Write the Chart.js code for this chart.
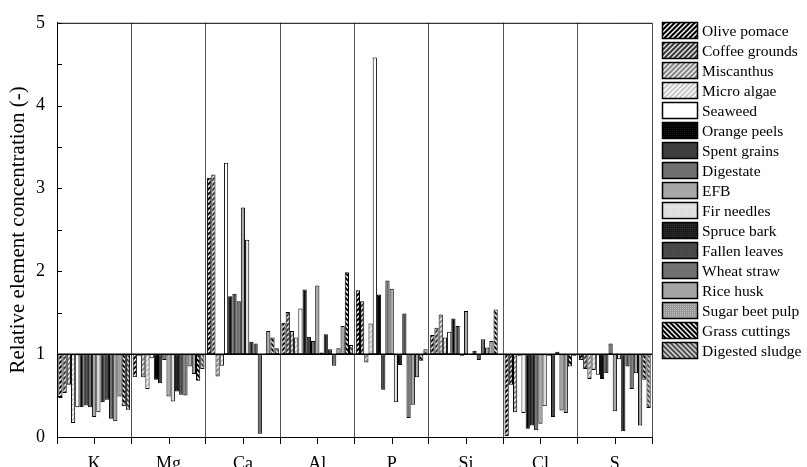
<!DOCTYPE html>
<html><head><meta charset="utf-8">
<script src="https://cdn.jsdelivr.net/npm/chart.js@4/dist/chart.umd.min.js"></script>
<style>html,body{margin:0;padding:0;background:#fff}canvas{display:block}</style>
</head><body>
<div style="width:807px;height:467px"><canvas id="c" width="807" height="467"></canvas></div>
<script>
// Categories (elements)
const categories = ['K','Mg','Ca','Al','P','Si','Cl','S'];
const yTicks = [0,1,2,3,4,5];
const seriesNames = ['Olive pomace','Coffee grounds','Miscanthus','Micro algae','Seaweed','Orange peels','Spent grains','Digestate','EFB','Fir needles','Spruce bark','Fallen leaves','Wheat straw','Rice husk','Sugar beet pulp','Grass cuttings','Digested sludge'];
// values per series, in category order K, Mg, Ca, Al, P, Si, Cl, S
const olivePomace    = [0.47,0.72,3.13,1.38,1.77,1.23,0.01,0.93];
const coffeeGrounds  = [0.53,0.98,3.17,1.51,1.64,1.32,0.63,0.82];
const miscanthus     = [0.63,0.72,0.73,1.28,0.90,1.48,0.30,0.70];
const microAlgae     = [0.17,0.58,0.86,1.20,1.37,1.20,0.98,0.81];
const seaweed        = [0.36,0.95,3.31,1.55,4.58,1.27,0.29,0.75];
const orangePeels    = [0.36,0.69,1.70,1.78,1.72,1.43,0.10,0.70];
const spentGrains    = [0.38,0.65,1.73,1.21,0.57,1.34,0.14,0.77];
const digestate      = [0.36,0.93,1.64,1.16,1.89,0.98,0.08,1.13];
const efb            = [0.24,0.49,2.77,1.83,1.79,1.52,0.16,0.31];
const firNeedles     = [0.30,0.43,2.38,1.02,0.42,0.99,0.37,0.94];
const spruceBark     = [0.42,0.55,1.15,1.24,0.87,1.04,0.98,0.07];
const fallenLeaves   = [0.45,0.51,1.13,1.06,1.49,0.93,0.24,0.85];
const wheatStraw     = [0.22,0.50,0.04,0.86,0.23,1.18,1.03,0.58];
const riceHusk       = [0.19,0.85,1.00,1.07,0.39,1.08,0.32,0.77];
const sugarBeetPulp  = [0.49,0.76,1.28,1.34,0.72,1.16,0.29,0.14];
const grassCuttings  = [0.37,0.68,1.20,1.99,0.92,1.54,0.85,0.69];
const digestedSludge = [0.33,0.82,1.07,1.11,1.06,1.00,0.98,0.35];
const seriesValues = [olivePomace,coffeeGrounds,miscanthus,microAlgae,seaweed,orangePeels,spentGrains,digestate,efb,firNeedles,spruceBark,fallenLeaves,wheatStraw,riceHusk,sugarBeetPulp,grassCuttings,digestedSludge];
const BASE = 1;

function hatch(bg, fg, dir){
  const s = 5, c = document.createElement('canvas'); c.width = s; c.height = s;
  const x = c.getContext('2d'); x.fillStyle = bg; x.fillRect(0,0,s,s);
  x.strokeStyle = fg; x.lineWidth = 1.4;
  for (let k=-1;k<=1;k++){
    x.beginPath();
    if (dir === '/') { x.moveTo(-1+k*s, s+1); x.lineTo(s+1+k*s, -1); }
    else { x.moveTo(-1+k*s, -1); x.lineTo(s+1+k*s, s+1); }
    x.stroke();
  }
  return x.createPattern(c,'repeat');
}
function dots(bg, fg){
  const c = document.createElement('canvas'); c.width = 2; c.height = 2;
  const x = c.getContext('2d'); x.fillStyle = bg; x.fillRect(0,0,2,2);
  x.fillStyle = fg; x.fillRect(0,0,1,1);
  return x.createPattern(c,'repeat');
}
const fills = [
  hatch('#000','#fff','/'),
  hatch('#3a3a3a','#e8e8e8','/'),
  hatch('#858585','#f0f0f0','/'),
  hatch('#c8c8c8','#ffffff','/'),
  '#ffffff',
  dots('#000','#1a1a1a'),
  dots('#3c3c3c','#484848'),
  dots('#6c6c6c','#787878'),
  dots('#a4a4a4','#b0b0b0'),
  dots('#e4e4e4','#d4d4d4'),
  dots('#1c1c1c','#303030'),
  dots('#454545','#555555'),
  dots('#6e6e6e','#7c7c7c'),
  dots('#a2a2a2','#aaaaaa'),
  dots('#9a9a9a','#bcbcbc'),
  hatch('#000','#fff','\\'),
  hatch('#505050','#e0e0e0','\\')
];

const datasets = seriesNames.map((name,i)=>({
  label: name,
  data: seriesValues[i].map(v=>[BASE, v]),
  backgroundColor: fills[i],
  borderColor: '#000',
  borderWidth: 1,
  borderSkipped: false,
  categoryPercentage: 0.965,
  barPercentage: 1.0
}));

const serif = "'Liberation Serif', 'DejaVu Serif', serif";

const decor = {
  id: 'decor',
  afterDatasetsDraw(chart){
    const {ctx, chartArea: a, scales: {x, y}} = chart;
    ctx.save();
    const yb = y.getPixelForValue(BASE);
    ctx.strokeStyle = '#000'; ctx.lineWidth = 1.5;
    ctx.beginPath(); ctx.moveTo(a.left, yb); ctx.lineTo(a.right, yb); ctx.stroke();
    ctx.lineWidth = 1;
    ctx.beginPath(); ctx.moveTo(a.left, a.top+0.5); ctx.lineTo(a.right, a.top+0.5); ctx.stroke();
    for (let v=0; v<=5.001; v+=0.5){
      const py = Math.round(y.getPixelForValue(v))+0.5;
      ctx.beginPath(); ctx.moveTo(a.left, py); ctx.lineTo(a.left+5, py); ctx.stroke();
    }
    categories.forEach((c,i)=>{
      const px = Math.round(x.getPixelForValue(i))+0.5;
      ctx.beginPath(); ctx.moveTo(px, a.bottom); ctx.lineTo(px, a.bottom+7); ctx.stroke();
    });
    ctx.restore();
  },
  afterDraw(chart){
    const {ctx} = chart;
    ctx.save();
    ctx.font = "15.5px " + serif;
    ctx.textBaseline = 'middle';
    chart.data.datasets.forEach((d,i)=>{
      const bx = 662.5, by = 22.5 + i*20, bw = 35, bh = 16;
      ctx.fillStyle = d.backgroundColor; ctx.fillRect(bx,by,bw,bh);
      ctx.strokeStyle = '#000'; ctx.lineWidth = 1.5; ctx.strokeRect(bx,by,bw,bh);
      ctx.fillStyle = '#000';
      ctx.fillText(d.label, 702, by + bh/2 + 1);
    });
    ctx.restore();
  }
};

new Chart(document.getElementById('c'), {
  type: 'bar',
  data: { labels: categories, datasets },
  options: {
    responsive: false,
    animation: false,
    layout: { padding: { left: 0, top: 17, right: 155, bottom: 0 } },
    plugins: { legend: { display: false }, tooltip: { enabled: false } },
    scales: {
      x: {
        grid: { offset: true, color: '#555', lineWidth: 1, drawOnChartArea: true, drawTicks: true, tickLength: 7, tickColor: '#000' },
        border: { display: true, color: '#000', width: 1 },
        ticks: { color: '#000', font: { family: serif, size: 18 }, padding: 9, maxRotation: 0 },
        afterFit(s){ s.height = 30; }
      },
      y: {
        min: 0, max: 5,
        grid: { display: false, drawTicks: false },
        border: { display: true, color: '#000', width: 1 },
        ticks: {
          stepSize: 1, autoSkip: false, padding: 12, color: '#000',
          font: { family: serif, size: 18 },
          callback: (v)=> yTicks.includes(v) ? String(v) : ''
        },
        title: { display: true, text: 'Relative element concentration (-)', color: '#000', font: { family: serif, size: 21 }, padding: { top: 6, bottom: 0 } },
        afterFit(s){ s.width = 57; }
      }
    }
  },
  plugins: [decor]
});
</script>
</body></html>
